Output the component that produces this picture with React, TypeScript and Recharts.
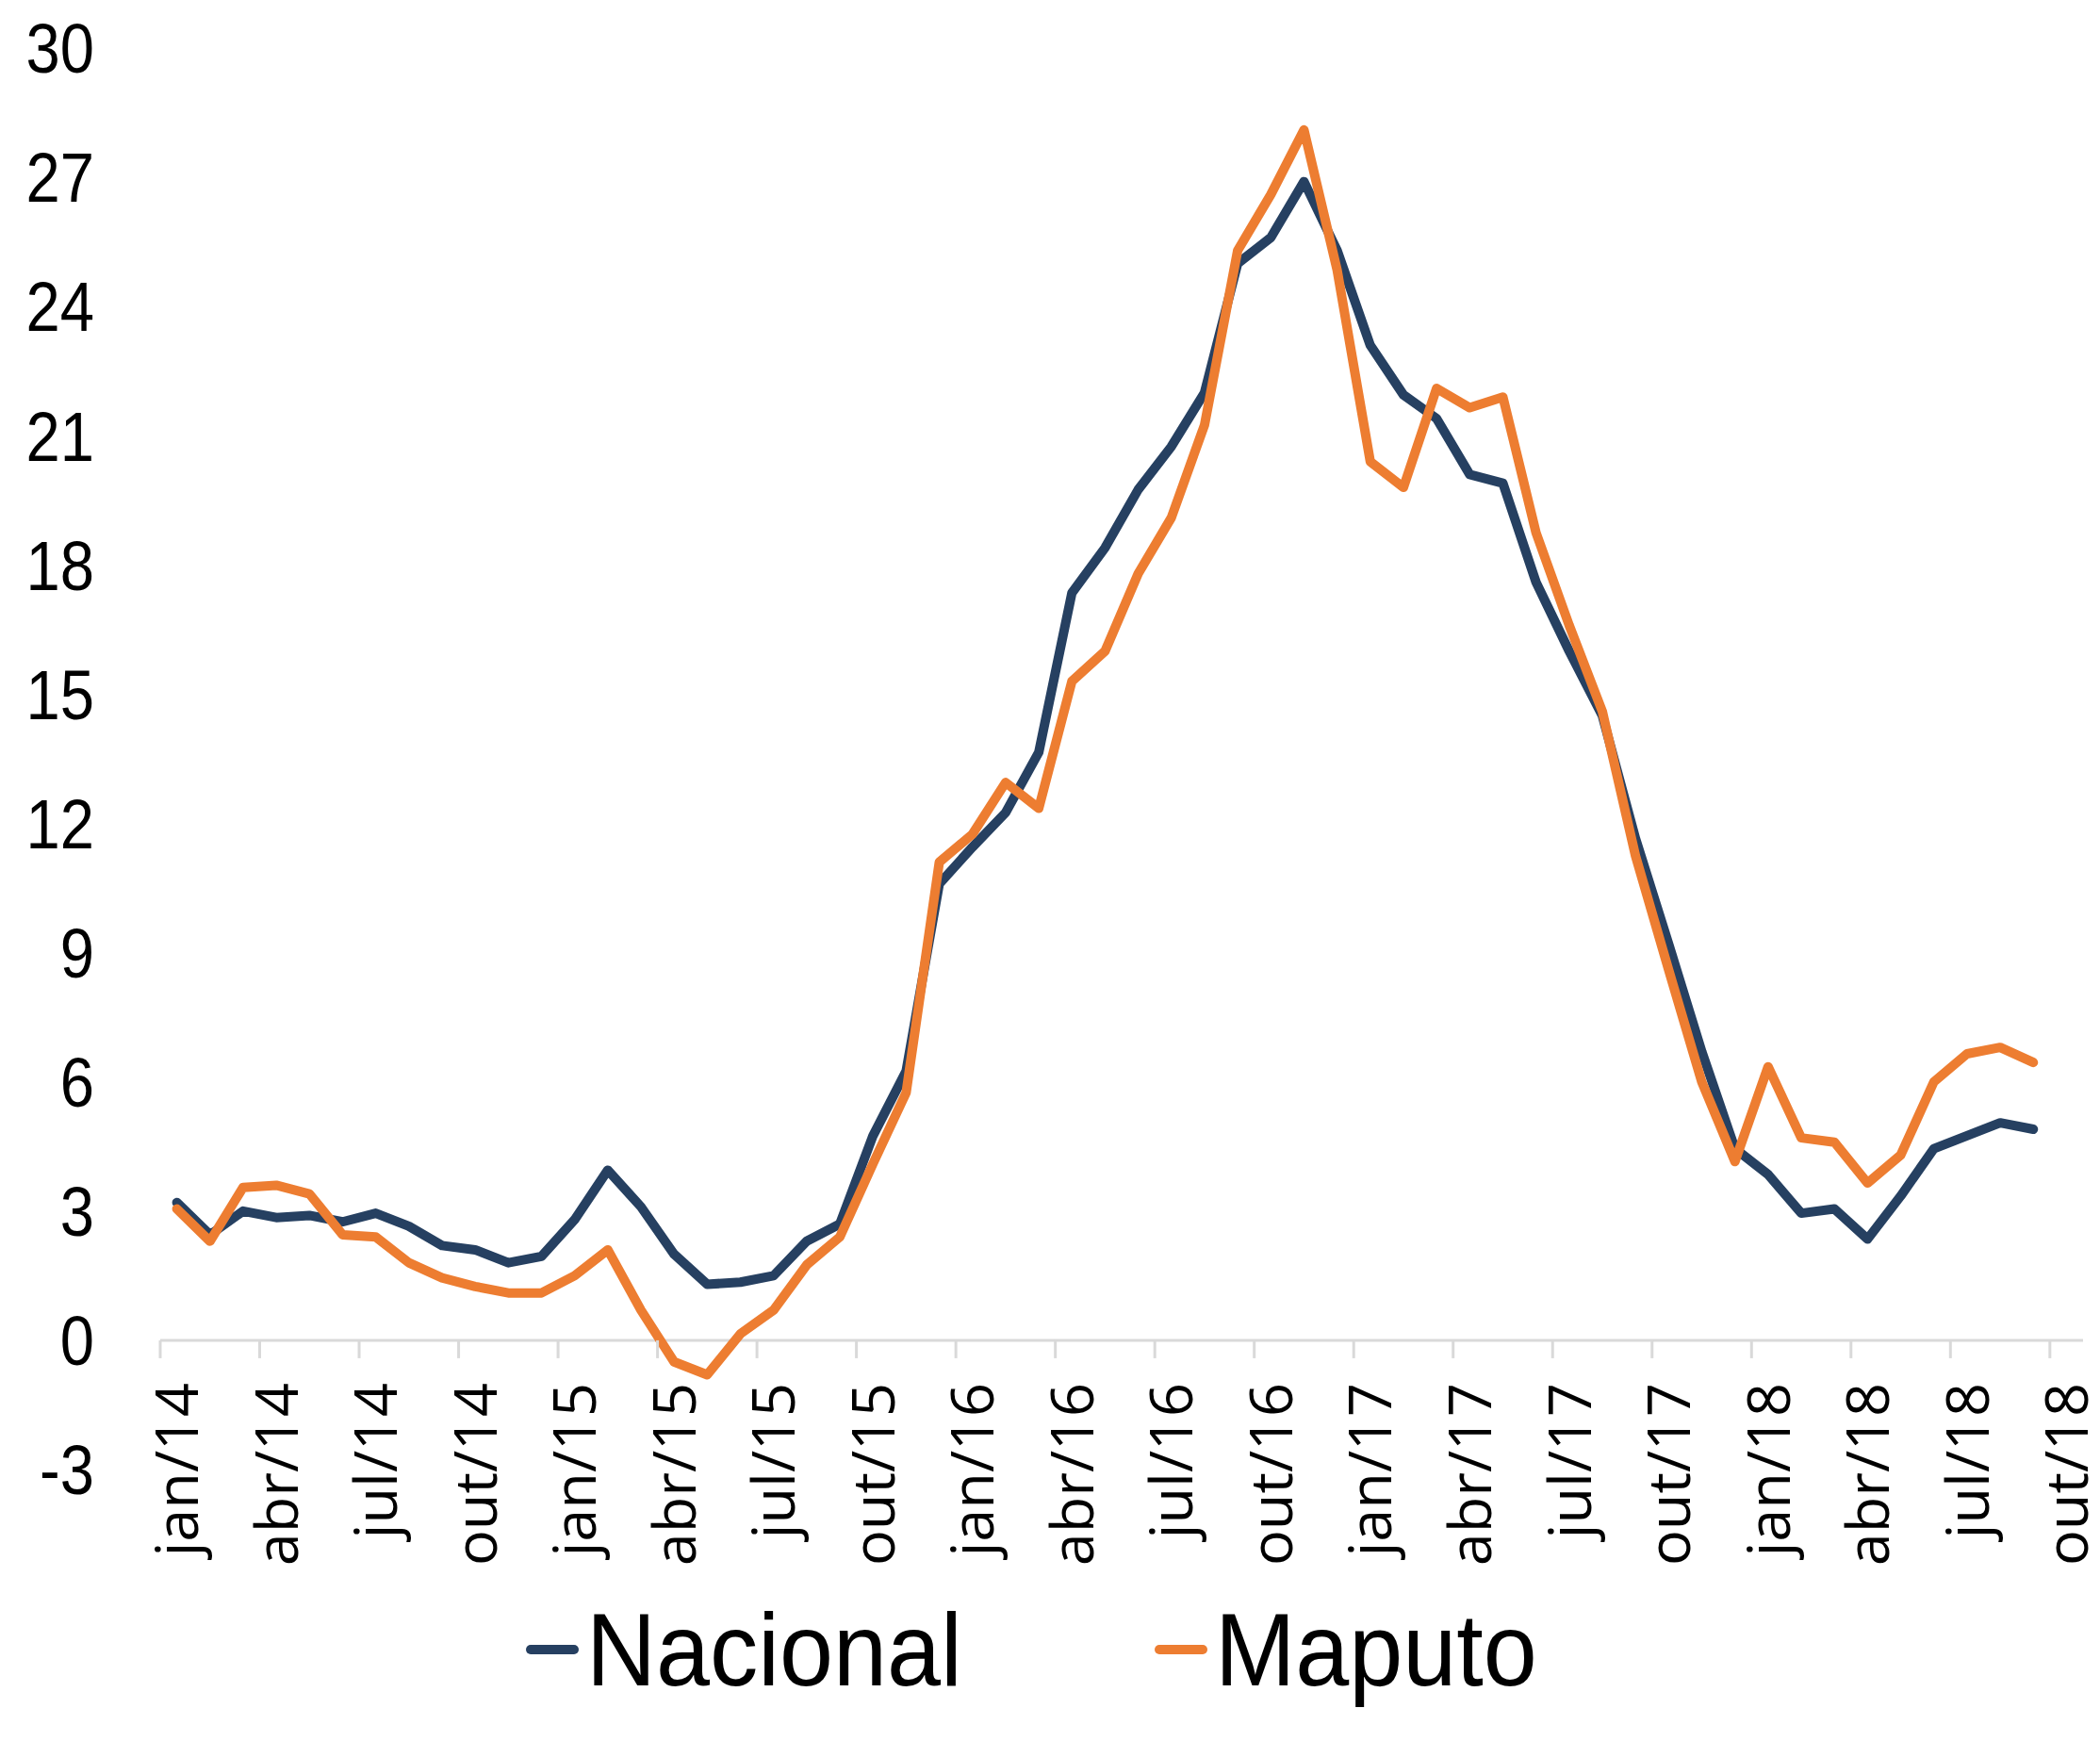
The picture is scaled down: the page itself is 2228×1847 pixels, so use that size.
import React from "react";
import { Legend, Line, LineChart, ReferenceLine, XAxis, YAxis } from "recharts";

const monthNames = ["jan", "fev", "mar", "abr", "mai", "jun", "jul", "ago", "set", "out", "nov", "dez"];
const years = ["14", "15", "16", "17", "18"];
// jan/14 .. out/18 (the last month has no value yet)
const months = years.flatMap((y) => monthNames.map((m) => `${m}/${y}`)).slice(0, 58);

const nacional = [
  3.2, 2.45, 3.0, 2.85, 2.9, 2.75, 2.95, 2.65, 2.2, 2.1, 1.8, 1.95,
  2.8, 3.95, 3.1, 2.0, 1.3, 1.35, 1.5, 2.3, 2.7, 4.75, 6.25, 10.6,
  11.45, 12.25, 13.65, 17.35, 18.4, 19.75, 20.75, 22.0, 25.0, 25.6, 26.9, 25.3,
  23.1, 21.95, 21.4, 20.1, 19.9, 17.6, 16.0, 14.5, 11.65, 9.2, 6.7, 4.45,
  3.85, 2.95, 3.05, 2.35, 3.35, 4.45, 4.75, 5.05, 4.9,
];

const maputo = [
  3.05, 2.3, 3.55, 3.6, 3.4, 2.45, 2.4, 1.8, 1.45, 1.25, 1.1, 1.1,
  1.5, 2.1, 0.7, -0.5, -0.8, 0.15, 0.7, 1.75, 2.4, 4.1, 5.75, 11.1,
  11.75, 12.95, 12.35, 15.3, 16.0, 17.8, 19.1, 21.25, 25.3, 26.6, 28.1, 24.85,
  20.4, 19.8, 22.1, 21.65, 21.9, 18.75, 16.6, 14.6, 11.25, 8.6, 6.0, 4.15,
  6.35, 4.7, 4.6, 3.65, 4.3, 6.0, 6.65, 6.8, 6.45,
];

const seriesOrder = ["Nacional", "Maputo"];
const yTicks = [-3, 0, 3, 6, 9, 12, 15, 18, 21, 24, 27, 30];

const data = months.map((month, i) => ({
  month,
  Nacional: nacional[i],
  Maputo: maputo[i],
}));

const WIDTH = 2220;
const HEIGHT = 1831;
const MARGIN = { top: 43, right: 18, left: 0, bottom: 20 };
const Y_AXIS_W = 162;
const X_AXIS_H = 130;
const LEGEND_H = 130;
const PLOT_W = WIDTH - MARGIN.left - MARGIN.right - Y_AXIS_W;
const PLOT_H = HEIGHT - MARGIN.top - MARGIN.bottom - X_AXIS_H - LEGEND_H;
const BAND = PLOT_W / months.length;
const Y_MIN = -3;
const Y_MAX = 30;

const NAVY = "#264061";
const ORANGE = "#ED7D31";
const AXIS_GREY = "#D9D9D9";
const SANS = "'Liberation Sans', Arial, sans-serif";

// the category axis crosses at 0, so ticks and labels hang from the zero line
function MonthTick(props: any) {
  const { x, payload } = props;
  const zeroY = MARGIN.top + (Y_MAX / (Y_MAX - Y_MIN)) * PLOT_H;
  return (
    <g>
      <line x1={x - BAND / 2} x2={x - BAND / 2} y1={zeroY} y2={zeroY + 19} stroke={AXIS_GREY} strokeWidth={3} />
      <text
        transform={`translate(${x},${zeroY + 45}) rotate(-90)`}
        textAnchor="end"
        dy="0.36em"
        fontSize={63}
        fontFamily="'Open Sans', sans-serif"
        fill="#000"
      >
        {payload.value}
      </text>
    </g>
  );
}

function ValueTick(props: any) {
  const { x, y, payload } = props;
  return (
    <text
      transform={`translate(${x},${y}) scale(0.88,1)`}
      textAnchor="end"
      dy="0.355em"
      fontSize={74}
      fontFamily={SANS}
      fill="#000"
    >
      {payload.value}
    </text>
  );
}

function LegendContent(props: any) {
  const { payload = [] } = props;
  const items = [...payload].sort(
    (a: any, b: any) => seriesOrder.indexOf(a.value) - seriesOrder.indexOf(b.value)
  );
  return (
    <div
      style={{
        height: LEGEND_H,
        display: "flex",
        alignItems: "center",
        paddingLeft: 550,
        paddingBottom: 8,
        boxSizing: "border-box",
        fontFamily: SANS,
        fontSize: 109,
        lineHeight: 1,
      }}
    >
      {items.map((item: any) => (
        <div key={item.value} style={{ display: "flex", alignItems: "center", width: 667 }}>
          <div style={{ width: 56, height: 10, borderRadius: 5, background: item.color, marginRight: 8 }} />
          <span style={{ color: "#000", display: "inline-block", transform: "scaleX(0.94)", transformOrigin: "left center" }}>
            {item.value}
          </span>
        </div>
      ))}
    </div>
  );
}

export default function App() {
  return (
    <div style={{ width: WIDTH, height: HEIGHT, background: "#fff" }}>
      <LineChart width={WIDTH} height={HEIGHT} data={data} margin={MARGIN}>
        <XAxis
          dataKey="month"
          interval={2}
          height={X_AXIS_H}
          padding={{ left: BAND / 2, right: BAND / 2 }}
          axisLine={false}
          tickLine={false}
          tick={<MonthTick />}
        />
        <YAxis
          type="number"
          domain={[Y_MIN, Y_MAX]}
          ticks={yTicks}
          width={Y_AXIS_W}
          axisLine={false}
          tickLine={false}
          tickSize={0}
          tickMargin={70}
          tick={<ValueTick />}
        />
        <ReferenceLine y={0} stroke={AXIS_GREY} strokeWidth={3} />
        <Legend verticalAlign="bottom" height={LEGEND_H} content={<LegendContent />} />
        <Line
          type="linear"
          dataKey="Nacional"
          stroke={NAVY}
          strokeWidth={10}
          strokeLinejoin="round"
          strokeLinecap="round"
          dot={false}
          isAnimationActive={false}
        />
        <Line
          type="linear"
          dataKey="Maputo"
          stroke={ORANGE}
          strokeWidth={10}
          strokeLinejoin="round"
          strokeLinecap="round"
          dot={false}
          isAnimationActive={false}
        />
      </LineChart>
    </div>
  );
}
